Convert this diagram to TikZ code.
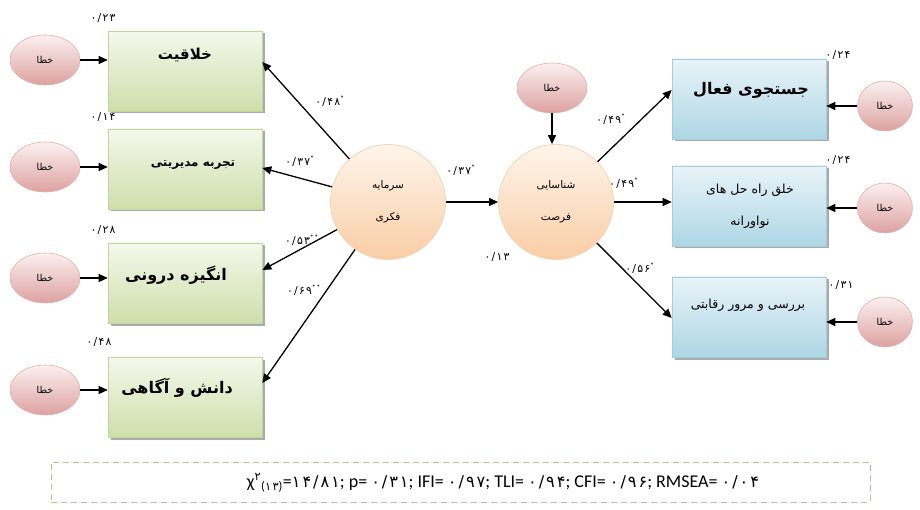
\documentclass[tikz,border=0pt]{standalone}
\usepackage{fontspec}
\setmainfont{Carlito}
\newfontfamily\fa[Script=Arabic]{DejaVu Sans}
\newfontfamily\fadig[Script=Arabic,Scale=0.9,LetterSpace=12]{DejaVu Sans}
\TeXXeTstate=1
\usetikzlibrary{arrows.meta,shadows,shapes.geometric}
\newcommand\rtl[1]{\beginR #1\endR}
\newcommand\st{\textsuperscript{\rmfamily *}}
\definecolor{gtop}{HTML}{F4F8EC}
\definecolor{gbot}{HTML}{CEDFAA}
\definecolor{gedge}{HTML}{C3D59E}
\definecolor{btop}{HTML}{E8F4F8}
\definecolor{bbot}{HTML}{AED6E5}
\definecolor{bedge}{HTML}{A6CDDC}
\definecolor{etop}{HTML}{FCF0F0}
\definecolor{ebot}{HTML}{DCA2A1}
\definecolor{eedge}{HTML}{E2B1B0}
\definecolor{ptop}{HTML}{FEF5EC}
\definecolor{pbot}{HTML}{F9CDA5}
\definecolor{pedge}{HTML}{F6D5B8}
\definecolor{dashc}{HTML}{C4BD97}
\tikzset{
  x=1pt, y=-1pt,
  boxshadow/.style={drop shadow={shadow xshift=2.5pt, shadow yshift=-2.5pt, opacity=0.6, fill=black!55}},
  lbox/.style={rectangle, minimum width=154pt, minimum height=80pt, inner sep=0pt,
    top color=gtop, bottom color=gbot, draw=gedge, line width=0.6pt, boxshadow},
  rbox/.style={rectangle, minimum width=154pt, minimum height=80pt, inner sep=0pt,
    top color=btop, bottom color=bbot, draw=bedge, line width=0.6pt, boxshadow},
  errnode/.style={ellipse, minimum width=70pt, minimum height=50pt, inner sep=0pt,
    top color=etop, bottom color=ebot, draw=eedge, line width=0.6pt,
    font=\fa\fontsize{9.5}{11}\selectfont},
  errsmall/.style={errnode, minimum width=55pt, minimum height=50pt},
  latent/.style={circle, minimum size=115pt, inner sep=0pt, align=center,
    top color=ptop, bottom color=pbot, draw=pedge, line width=0.8pt,
    font=\fa\fontsize{10.5}{32}\selectfont},
  arr/.style={-{Triangle[length=9pt,width=8pt]}, line width=1.3pt},
  numlab/.style={font=\fadig\fontsize{12}{13}\selectfont, inner sep=0pt},
  btxt/.style={font=\fa\bfseries\fontsize{#1}{#1}\selectfont, inner sep=0pt},
  btxt/.default=14,
  ntxt/.style={font=\fa\fontsize{12.5}{32}\selectfont, inner sep=0pt, align=center},
}
\begin{document}
\begin{tikzpicture}
\useasboundingbox (0,0) rectangle (920,510);
\fill[white] (0,0) rectangle (920,510);
% left boxes
\node[lbox] (b1) at (185,71) {};
\node[lbox] (b2) at (185,169) {};
\node[lbox] (b3) at (185,283) {};
\node[lbox] (b4) at (185,397) {};
\node[btxt=15] (t1) at (185,55) {\rtl{خلاقیت}};
\node[btxt=12] (t2) at (193,165) {\rtl{تجربه مدیریتی}};
\node[btxt=16] (t3) at (176,275) {\rtl{انگیزه درونی}};
\node[btxt=16] (t4) at (177,388) {\rtl{دانش و آگاهی}};
% right boxes
\node[rbox] (r1) at (749,99) {};
\node[rbox] (r2) at (749,206) {};
\node[rbox] (r3) at (749,317) {};
\node[btxt=16] (u1) at (751,90) {\rtl{جستجوی فعال}};
\node[ntxt] (u2) at (750,206) {\rtl{خلق راه حل های}\\\rtl{نواورانه}};
\node[ntxt] (u3) at (748,305) {\rtl{بررسی و مرور رقابتی}};
% latent
\node[latent] (c1) at (388,202) {\rtl{سرمایه}\\\rtl{فکری}};
\node[latent] (c2) at (556,202) {\rtl{شناسایی}\\\rtl{فرصت}};
% errors
\node[errnode] (e1) at (45,60) {\rtl{خطا}};
\node[errnode] (e2) at (45,167) {\rtl{خطا}};
\node[errnode] (e3) at (45,278) {\rtl{خطا}};
\node[errnode] (e4) at (45,390) {\rtl{خطا}};
\node[errnode] (e0) at (552,88) {\rtl{خطا}};
\node[errsmall] (f1) at (885,106) {\rtl{خطا}};
\node[errsmall] (f2) at (885,208) {\rtl{خطا}};
\node[errsmall] (f3) at (885,322) {\rtl{خطا}};
% error arrows
\draw[arr] (e1) -- (e1 -| b1.west);
\draw[arr] (e2) -- (e2 -| b2.west);
\draw[arr] (e3) -- (e3 -| b3.west);
\draw[arr] (e4) -- (e4 -| b4.west);
\draw[arr] (f1) -- (f1 -| r1.east);
\draw[arr] (f2) -- (f2 -| r2.east);
\draw[arr] (f3) -- (f3 -| r3.east);
\draw[arr] (e0) -- (e0 |- c2.north);
% structural arrows
\draw[arr] (c1) -- ([yshift=9pt]b1.east);
\draw[arr] (c1) -- ([yshift=1pt]b2.east);
\draw[arr] (c1) -- ([yshift=13pt]b3.east);
\draw[arr] (c1) -- ([yshift=14pt]b4.east);
\draw[arr] (c1) -- (c2);
\draw[arr] (c2) -- ([yshift=9pt]r1.west);
\draw[arr] (c2) -- ([yshift=4pt]r2.west);
\draw[arr] (c2) -- ([yshift=-1pt]r3.west);
% numeric labels
\node[numlab] (n1) at (103,18) {۰/۲۳};
\node[numlab] (n2) at (103,117) {۰/۱۴};
\node[numlab] (n3) at (103,230) {۰/۲۸};
\node[numlab] (n4) at (99,342) {۰/۴۸};
\node[numlab] (n5) at (838,55) {۰/۲۴};
\node[numlab] (n6) at (838,160) {۰/۲۴};
\node[numlab] (n7) at (841,285) {۰/۳۱};
\node[numlab] (n8) at (497,257) {۰/۱۳};
\node[numlab] (p1) at (330,101) {۰/۴۸\st};
\node[numlab] (p2) at (300,161) {۰/۳۷\st};
\node[numlab] (p3) at (302,240) {۰/۵۳\st\st};
\node[numlab] (p4) at (304,290) {۰/۶۹\st\st};
\node[numlab] (p5) at (461,170) {۰/۳۷\st};
\node[numlab] (p6) at (611,119) {۰/۴۹\st};
\node[numlab] (p7) at (624,183) {۰/۴۹\st};
\node[numlab] (p8) at (640,268) {۰/۵۶\st};
% fit indices
\node[draw=dashc, dash pattern=on 6pt off 4pt, line width=0.8pt, minimum width=819pt, minimum height=40pt, inner sep=0pt] (fitbox) at (460.5,482) {};
\node[font=\fontsize{18}{20}\selectfont, inner sep=0pt] (fit) at (503,483)
  {χ\textsuperscript{\fadig ۲}\textsubscript{({\fadig ۱۳})}={\fadig ۱۴/۸۱}; p= {\fadig ۰/۳۱}; IFI= {\fadig ۰/۹۷}; TLI= {\fadig ۰/۹۴}; CFI= {\fadig ۰/۹۶}; RMSEA= {\fadig ۰/۰۴}};
\end{tikzpicture}
\end{document}
